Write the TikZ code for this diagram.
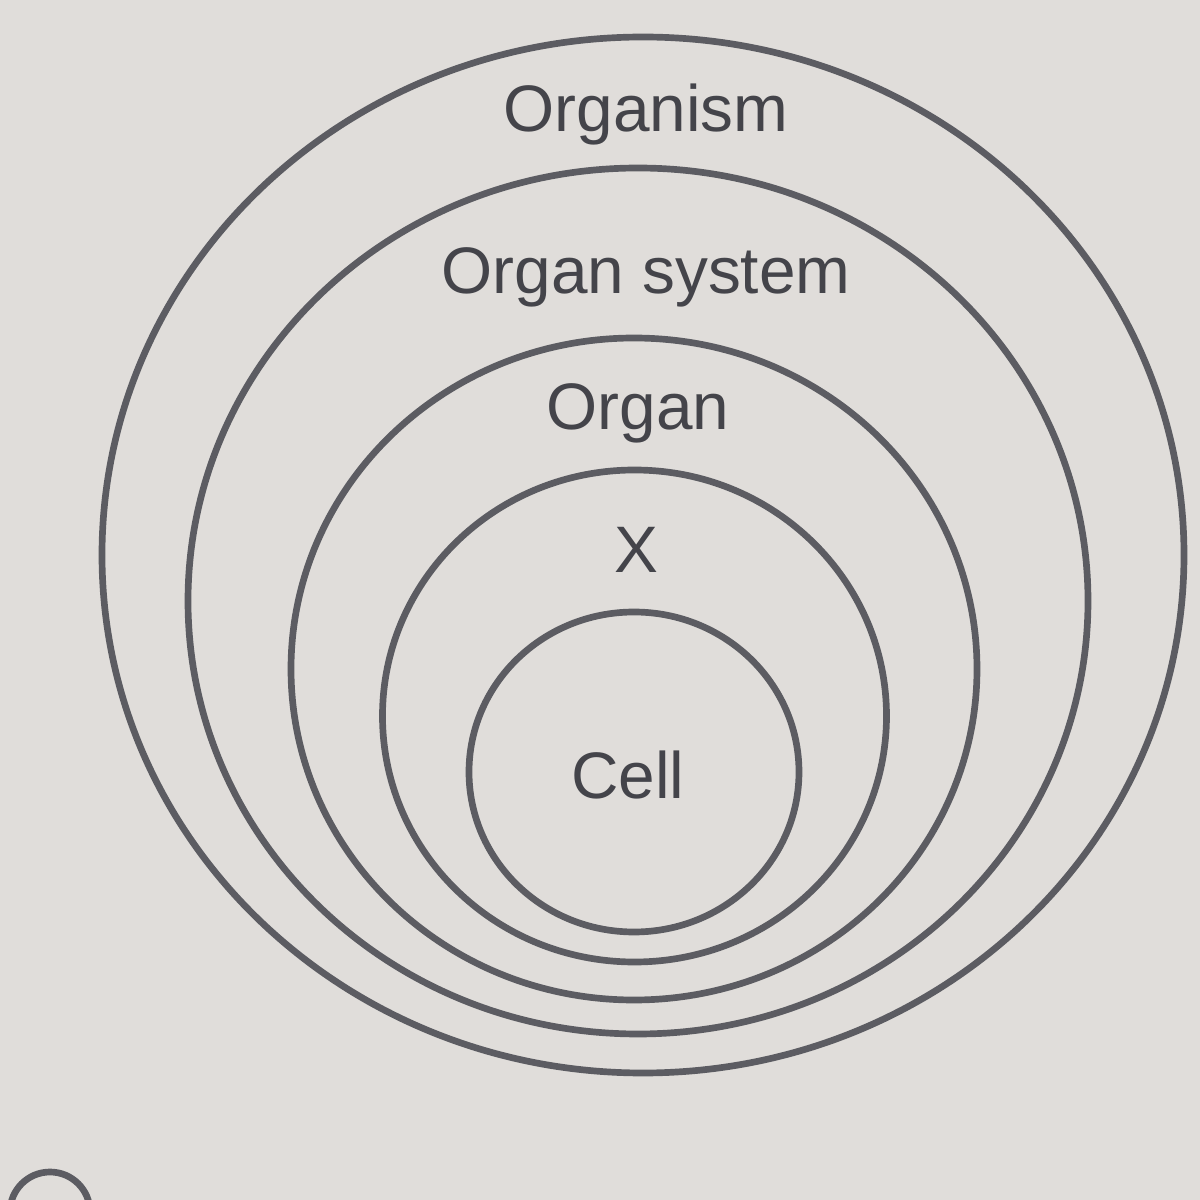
\documentclass[tikz,border=0pt]{standalone}
\usepackage{fontspec}
\setmainfont{Liberation Sans}
\usepackage{xcolor}
\usepackage{tikz}
\usetikzlibrary{positioning}
\definecolor{PaperGray}{RGB}{224, 221, 218}
\definecolor{InkGray}{RGB}{92, 92, 98}
\definecolor{TextGray}{RGB}{68, 68, 74}

\begin{document}
\begin{tikzpicture}[
  ring/.style={draw=InkGray, line width=1.9pt},
  lbl/.style={text=TextGray, font=\fontsize{18.7}{22}\selectfont, inner sep=0pt}
]
  \useasboundingbox (0,0) rectangle (12,12);
  \clip (0,0) rectangle (12,12);
  \fill[PaperGray] (0,0) rectangle (12,12);
  % nested levels
  \draw[ring] (6.43,6.45) ellipse [x radius=5.41, y radius=5.18];
  \draw[ring] (6.38,5.99) ellipse [x radius=4.50, y radius=4.33];
  \draw[ring] (6.34,5.31) ellipse [x radius=3.43, y radius=3.31];
  \draw[ring] (6.345,4.84) ellipse [x radius=2.52, y radius=2.46];
  \draw[ring] (6.34,4.28) ellipse [x radius=1.65, y radius=1.60];
  \node[lbl] (organism) at (6.46,10.85) {Organism};
  \node[lbl] (system)   at (6.46,9.23)  {Organ system};
  \node[lbl] (organ)    at (6.38,7.87)  {Organ};
  \node[lbl] (tissue)   at (6.36,6.50)  {X};
  \node[lbl] (cell)     at (6.28,4.25)  {Cell};
  % answer button, cut off at the bottom
  \draw[ring] (0.50,-0.12) circle (0.40);
\end{tikzpicture}
\end{document}
